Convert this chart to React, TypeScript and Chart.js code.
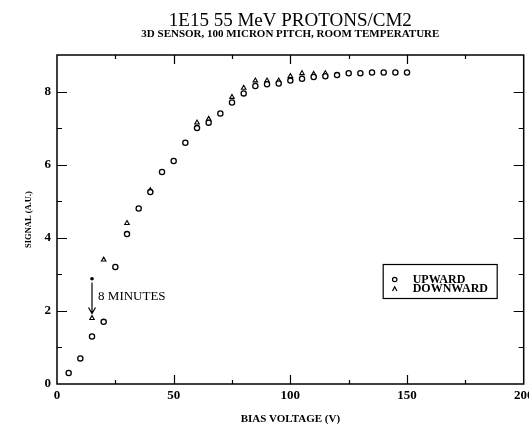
import React, { useEffect, useRef } from "react";
import { Chart, registerables } from "chart.js";

Chart.register(...registerables);

const TITLE = "1E15 55 MeV PROTONS/CM2";
const SUBTITLE = "3D SENSOR, 100 MICRON PITCH, ROOM TEMPERATURE";
const X_TITLE = "BIAS VOLTAGE (V)";
const Y_TITLE = "SIGNAL (A.U.)";

const upwardX = [5, 10, 15, 20, 25, 30, 35, 40, 45, 50, 55, 60, 65, 70, 75, 80, 85, 90, 95, 100, 105, 110, 115, 120, 125, 130, 135, 140, 145, 150];
const upwardY = [0.3, 0.7, 1.3, 1.7, 3.2, 4.1, 4.8, 5.25, 5.8, 6.1, 6.6, 7.0, 7.15, 7.4, 7.7, 7.95, 8.15, 8.2, 8.22, 8.3, 8.35, 8.4, 8.42, 8.45, 8.5, 8.5, 8.52, 8.52, 8.52, 8.52];

const downwardX = [15, 20, 30, 40, 60, 65, 75, 80, 85, 90, 95, 100, 105, 110, 115];
const downwardY = [1.8, 3.4, 4.4, 5.3, 7.15, 7.25, 7.85, 8.1, 8.3, 8.3, 8.3, 8.42, 8.5, 8.48, 8.5];

// "8 MINUTES" annotation: starting reading, arrow from/to, label position
const noteX = [15];
const noteStartY = [2.88];
const noteArrowY = [2.78, 1.93];
const noteLabel = "8 MINUTES";
const noteLabelX = [17.6];
const noteLabelY = [2.39];

const X_MIN = 0, X_MAX = 200, X_STEP = 25, X_MAJOR = 50;
const Y_MIN = 0, Y_MAX = 9, Y_STEP = 1, Y_MAJOR = 2;

const LEGEND_ITEMS = ["UPWARD", "DOWNWARD"];

const SERIF = '"Liberation Serif", "Times New Roman", serif';

const framePlugin = {
  id: "frameTicks",
  afterDatasetsDraw(chart: any) {
    const { ctx, chartArea } = chart;
    const { left, right, top, bottom } = chartArea;
    const xs = chart.scales.x;
    const ys = chart.scales.y;
    ctx.save();
    ctx.strokeStyle = "#000";
    ctx.lineWidth = 1.5;
    ctx.strokeRect(left, top, right - left, bottom - top);
    ctx.lineWidth = 1.2;
    ctx.beginPath();
    for (let v = X_MIN + X_STEP; v < X_MAX; v += X_STEP) {
      const px = Math.round(xs.getPixelForValue(v)) + 0.5;
      const len = v % X_MAJOR === 0 ? 9 : 4;
      ctx.moveTo(px, bottom);
      ctx.lineTo(px, bottom - len);
      ctx.moveTo(px, top);
      ctx.lineTo(px, top + len);
    }
    for (let v = Y_MIN + Y_STEP; v < Y_MAX; v += Y_STEP) {
      const py = Math.round(ys.getPixelForValue(v)) + 0.5;
      const len = v % Y_MAJOR === 0 ? 10 : 5;
      ctx.moveTo(left, py);
      ctx.lineTo(left + len, py);
      ctx.moveTo(right, py);
      ctx.lineTo(right - len, py);
    }
    ctx.stroke();

    // annotation
    const ax = xs.getPixelForValue(noteX[0]);
    const sy = ys.getPixelForValue(noteStartY[0]);
    ctx.fillStyle = "#000";
    ctx.beginPath();
    ctx.arc(ax, sy, 1.8, 0, Math.PI * 2);
    ctx.fill();
    const a1 = ys.getPixelForValue(noteArrowY[0]);
    const a2 = ys.getPixelForValue(noteArrowY[1]);
    ctx.lineWidth = 1.2;
    ctx.beginPath();
    ctx.moveTo(ax, a1);
    ctx.lineTo(ax, a2);
    ctx.moveTo(ax - 3.5, a2 - 6);
    ctx.lineTo(ax, a2);
    ctx.lineTo(ax + 3.5, a2 - 6);
    ctx.stroke();
    ctx.font = `13px ${SERIF}`;
    ctx.textAlign = "left";
    ctx.textBaseline = "middle";
    ctx.fillText(noteLabel, xs.getPixelForValue(noteLabelX[0]), ys.getPixelForValue(noteLabelY[0]));

    // legend box
    const bx = right - 141, by = 264, bw = 114, bh = 34;
    ctx.lineWidth = 1.2;
    ctx.strokeRect(bx + 0.5, by + 0.5, bw, bh);
    ctx.font = `bold 12px ${SERIF}`;
    LEGEND_ITEMS.forEach((label, i) => {
      const cy = by + 15.5 + i * 9.5;
      const sx = bx + 12;
      ctx.lineWidth = 1.2;
      ctx.beginPath();
      if (i === 0) {
        ctx.arc(sx, cy, 2.2, 0, Math.PI * 2);
      } else {
        ctx.moveTo(sx - 2.2, cy + 2);
        ctx.lineTo(sx, cy - 2.2);
        ctx.lineTo(sx + 2.2, cy + 2);
      }
      ctx.stroke();
      ctx.fillText(label, bx + 30, cy);
    });
    ctx.restore();
  },
};

export default function App() {
  const ref = useRef<HTMLCanvasElement | null>(null);
  useEffect(() => {
    if (!ref.current) return;
    const chart = new Chart(ref.current, {
      type: "scatter",
      data: {
        datasets: [
          {
            label: LEGEND_ITEMS[0],
            data: upwardX.map((x, i) => ({ x, y: upwardY[i] })),
            pointStyle: "circle",
            pointRadius: 2.6,
            pointBorderWidth: 1.3,
            pointBorderColor: "#000",
            pointBackgroundColor: "#fff",
            showLine: false,
          },
          {
            label: LEGEND_ITEMS[1],
            data: downwardX.map((x, i) => ({ x, y: downwardY[i] })),
            pointStyle: "triangle",
            pointRadius: 2.6,
            pointBorderWidth: 1.1,
            pointBorderColor: "#000",
            pointBackgroundColor: "rgba(255,255,255,0)",
            showLine: false,
          },
        ],
      },
      options: {
        animation: false,
        responsive: false,
        devicePixelRatio: 1,
        layout: { padding: 0 },
        plugins: {
          legend: { display: false },
          tooltip: { enabled: false },
          title: {
            display: true,
            text: TITLE,
            fullSize: false,
            color: "#000",
            font: { family: SERIF, size: 19, weight: "normal", lineHeight: 0.8 },
            padding: { top: 13.4, bottom: 0 },
          },
          subtitle: {
            display: true,
            text: SUBTITLE,
            fullSize: false,
            color: "#000",
            font: { family: SERIF, size: 11, weight: "bold", lineHeight: 1 },
            padding: { top: 0, bottom: 15.4 },
          },
        },
        scales: {
          x: {
            type: "linear",
            min: X_MIN,
            max: X_MAX,
            grid: { display: false, drawTicks: false },
            border: { display: false },
            ticks: {
              stepSize: X_STEP,
              color: "#000",
              padding: 4,
              maxRotation: 0,
              autoSkip: false,
              font: { family: SERIF, size: 13, weight: "bold" },
              callback: (v: any) => (Number(v) % X_MAJOR === 0 ? String(v) : ""),
            },
            title: {
              display: true,
              text: X_TITLE,
              color: "#000",
              font: { family: SERIF, size: 11, weight: "bold", lineHeight: 1.2 },
              padding: { top: 0, bottom: 1 },
            },
            afterFit: (s: any) => {
              s.height = 43;
              s.paddingLeft = 0;
              s.paddingRight = 0;
            },
          },
          y: {
            type: "linear",
            min: Y_MIN,
            max: Y_MAX,
            grid: { display: false, drawTicks: false },
            border: { display: false },
            ticks: {
              stepSize: Y_STEP,
              color: "#000",
              padding: 6,
              autoSkip: false,
              font: { family: SERIF, size: 13, weight: "bold" },
              callback: (v: any) => (Number(v) % Y_MAJOR === 0 && Number(v) < Y_MAX ? String(v) : ""),
            },
            title: {
              display: true,
              text: Y_TITLE,
              color: "#000",
              font: { family: SERIF, size: 8.5, weight: "bold", lineHeight: 1.2 },
              padding: { top: 24, bottom: 0 },
            },
            afterFit: (s: any) => {
              s.width = 57;
              s.paddingTop = 0;
              s.paddingBottom = 0;
            },
          },
        },
      },
      plugins: [framePlugin],
    } as any);
    return () => chart.destroy();
  }, []);
  return (
    <div style={{ position: "absolute", left: 0, top: 0, width: 529, height: 427, background: "#fff" }}>
      <canvas ref={ref} width={529} height={427} />
    </div>
  );
}
